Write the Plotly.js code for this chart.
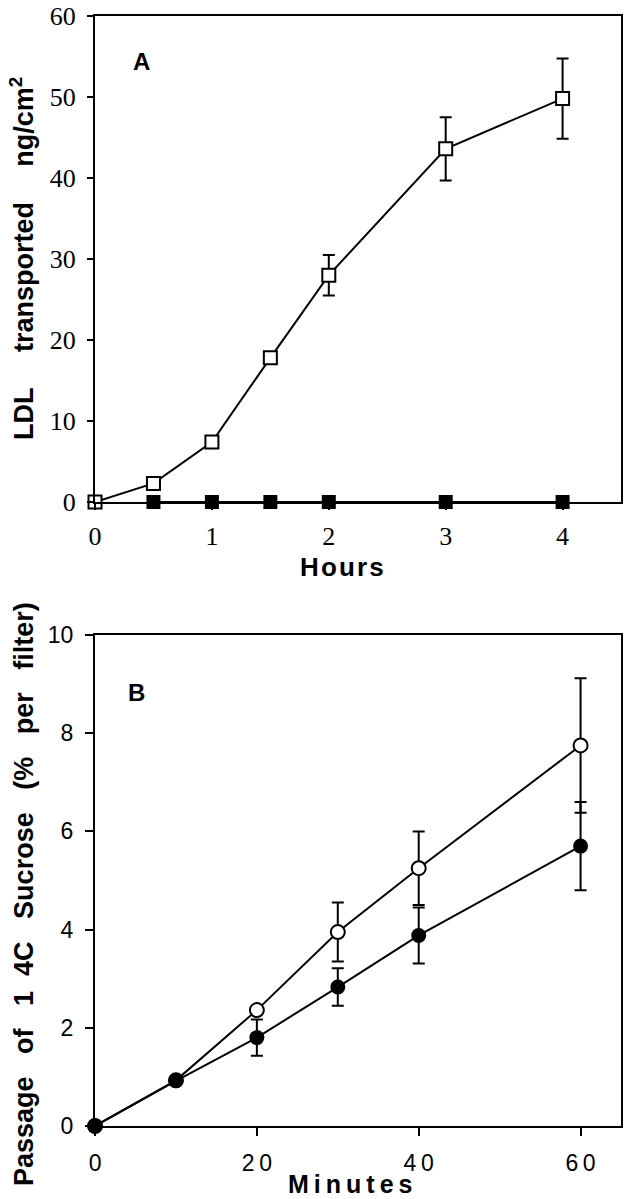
<!DOCTYPE html>
<html>
<head>
<meta charset="utf-8">
<script src="https://cdn.plot.ly/plotly-3.0.1.min.js"></script>
<style>html,body{margin:0;padding:0;background:#fff;}#chart{width:628px;height:1199px;}</style>
</head>
<body>
<div id="chart"></div>
<script>
// Panel A data (hours vs LDL transported ng/cm2)
const hoursOpen = [0, 0.5, 1, 1.5, 2, 3, 4];
const ldlOpen = [0, 2.3, 7.4, 17.8, 28, 43.6, 49.8];
const ldlOpenErr = [0, 0, 0, 0, 2.5, 3.9, 4.95];
const hoursFilled = [0.5, 1, 1.5, 2, 3, 4];
const ldlFilled = [0, 0, 0, 0, 0, 0];
const hourTicks = [0, 1, 2, 3, 4];

// Panel B data (minutes vs passage of 14C sucrose % per filter)
const minutes = [0, 10, 20, 30, 40, 60];
const sucroseOpen = [0, 0.93, 2.36, 3.95, 5.25, 7.75];
const sucroseOpenErr = [0, 0, 0, 0.6, 0.75, 1.37];
const sucroseFilled = [0, 0.92, 1.8, 2.83, 3.88, 5.7];
const sucroseFilledErr = [0, 0, 0.37, 0.38, 0.57, 0.9];
const minuteTicks = [0, 20, 40, 60];
const minuteTickText = ['0', '2\u20090', '4\u20090', '6\u20090'];

const sans = 'Arial, "Liberation Sans", Helvetica, sans-serif';
const serif = '"Times New Roman", "Liberation Serif", Times, serif';
const nb = '\u00A0';
const gap = nb + nb + nb + nb + '\u2009';
const gap2 = nb + nb + nb;
const sp = (s, c) => s.split('').join(c);

const traces = [
  {x: hoursFilled, y: ldlFilled, xaxis: 'x', yaxis: 'y', mode: 'lines+markers', cliponaxis: false,
   line: {color: '#000', width: 2},
   marker: {symbol: 'square', size: 14, color: '#000'}},
  {x: hoursOpen, y: ldlOpen, xaxis: 'x', yaxis: 'y', mode: 'lines+markers', cliponaxis: false,
   line: {color: '#000', width: 2},
   error_y: {type: 'data', array: ldlOpenErr, visible: true, color: '#000', thickness: 2, width: 6},
   marker: {symbol: 'square', size: 13, color: '#fff', line: {color: '#000', width: 2}}},
  {x: minutes, y: sucroseOpen, xaxis: 'x2', yaxis: 'y2', mode: 'lines+markers', cliponaxis: false,
   line: {color: '#000', width: 2},
   error_y: {type: 'data', array: sucroseOpenErr, visible: true, color: '#000', thickness: 2, width: 6},
   marker: {symbol: 'circle', size: 14, color: '#fff', line: {color: '#000', width: 2}}},
  {x: minutes, y: sucroseFilled, xaxis: 'x2', yaxis: 'y2', mode: 'lines+markers', cliponaxis: false,
   line: {color: '#000', width: 2},
   error_y: {type: 'data', array: sucroseFilledErr, visible: true, color: '#000', thickness: 2, width: 6},
   marker: {symbol: 'circle', size: 15, color: '#000'}}
];

const axisCommon = {showline: true, linewidth: 2, linecolor: '#000', mirror: true, showgrid: false,
  zeroline: false, ticks: 'outside', tickwidth: 2, tickcolor: '#000', fixedrange: true};

const layout = {
  width: 628, height: 1199, showlegend: false,
  margin: {l: 0, r: 0, t: 0, b: 0},
  paper_bgcolor: '#fff', plot_bgcolor: '#fff',
  xaxis: Object.assign({}, axisCommon, {domain: [0.1513, 0.9889], anchor: 'y', range: [0, 4.5],
    tickvals: hourTicks, ticklen: 6, ticklabelstandoff: 4, tickfont: {family: serif, size: 26, color: '#000'}}),
  yaxis: Object.assign({}, axisCommon, {domain: [0.5813, 0.9867], anchor: 'x', range: [0, 60],
    dtick: 10, ticklen: 6, ticklabelstandoff: 6, tickfont: {family: serif, size: 26, color: '#000'}}),
  xaxis2: Object.assign({}, axisCommon, {domain: [0.1513, 0.9889], anchor: 'y2', range: [0, 65],
    tickvals: minuteTicks, ticktext: minuteTickText, ticklen: 8, ticklabelstandoff: 7,
    tickfont: {family: sans, size: 23, color: '#000'}}),
  yaxis2: Object.assign({}, axisCommon, {domain: [0.0609, 0.4704], anchor: 'x2', range: [0, 10],
    dtick: 2, ticklen: 8, ticklabelstandoff: 7, tickfont: {family: sans, size: 23, color: '#000'}}),
  annotations: [
    {text: '<b>A</b>', xref: 'paper', yref: 'paper', x: 141.5 / 628, y: 1 - 62 / 1199, showarrow: false,
     font: {family: sans, size: 24, color: '#000'}, xanchor: 'center', yanchor: 'middle'},
    {text: '<b>B</b>', xref: 'paper', yref: 'paper', x: 136 / 628, y: 1 - 692 / 1199, showarrow: false,
     font: {family: sans, size: 24, color: '#000'}, xanchor: 'center', yanchor: 'middle'},
    {text: '<b>' + sp('Hours', '\u200A') + '</b>', xref: 'paper', yref: 'paper', x: 342 / 628, y: 1 - 567 / 1199, showarrow: false,
     font: {family: sans, size: 26, color: '#000'}, xanchor: 'center', yanchor: 'middle'},
    {text: '<b>' + sp('Minutes', '\u2009') + '</b>', xref: 'paper', yref: 'paper', x: 350 / 628, y: 1 - 1184 / 1199, showarrow: false,
     font: {family: sans, size: 25, color: '#000'}, xanchor: 'center', yanchor: 'middle'},
    {text: '<b>LDL' + gap + 'transported' + gap + 'ng/cm<sup>2</sup></b>', xref: 'paper', yref: 'paper',
     x: 22 / 628, y: 1 - 259 / 1199, showarrow: false, textangle: -90,
     font: {family: sans, size: 27, color: '#000'}, xanchor: 'center', yanchor: 'middle'},
    {text: '<b>Passage' + gap2 + 'of' + gap2 + '1' + nb + nb + '4C' + gap2 + 'Sucrose' + gap2 + '(%' + gap2 + 'per' + gap2 + 'filter)</b>',
     xref: 'paper', yref: 'paper', x: 24 / 628, y: 1 - 894 / 1199, showarrow: false, textangle: -90,
     font: {family: sans, size: 27, color: '#000'}, xanchor: 'center', yanchor: 'middle'}
  ]
};

Plotly.newPlot('chart', traces, layout, {displayModeBar: false, staticPlot: true});
</script>
</body>
</html>
